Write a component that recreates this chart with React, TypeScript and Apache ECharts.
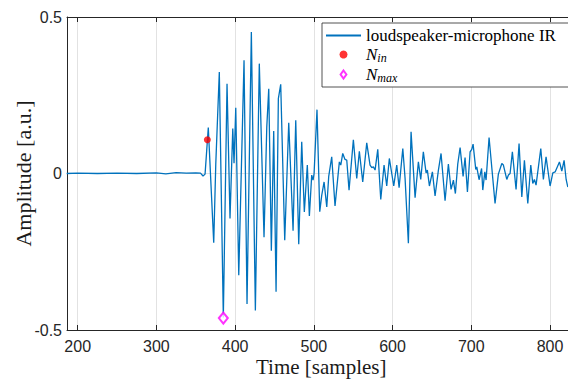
import React, { useEffect, useRef } from "react";
import * as echarts from "echarts";

// Impulse response (sample index, amplitude)
const sampleIdx = [
  186, 200, 225, 250, 275, 300, 312, 325, 338, 350, 356, 359.2, 361.8,
  365.9, 372.8, 375.4, 379.9, 385, 389.7, 393.5, 397, 398.6, 400.8, 404.6,
  411.3, 415.1, 420.6, 425.7, 430.7, 436.7, 440.2, 442.7, 446, 449, 452,
  454.9, 457.9, 463, 468.1, 473.6, 477, 480.8, 484.6, 487.9, 491.7, 494.3,
  497.3, 499, 500.3, 504, 507.5, 510, 513, 516.4, 518.9, 522.7, 526.9,
  532.4, 534.2, 536.7, 539.6, 541.8, 544.7, 550.2, 554.5, 557.8, 562.1,
  567.2, 571.4, 573.6, 575.6, 577.8, 581.2, 585, 589.2, 592.6, 595.9,
  601.5, 605.3, 608.3, 613, 615.9, 620.1, 623.5, 628.6, 632.8, 635.8,
  639.1, 642.6, 644.2, 646.8, 650.6, 654, 658.2, 661.6, 666.7, 670.9,
  674.3, 677.3, 679.8, 682.8, 685.8, 689.6, 692.1, 695.1, 698.5, 700.6,
  702.3, 705.7, 707, 709.9, 713.1, 714.6, 717.2, 718.8, 722.6, 730.2,
  734.4, 738.8, 740.8, 745.1, 747.2, 749.3, 752.2, 756.9, 760.7, 764.2,
  767.5, 771.8, 775.6, 778.1, 780.2, 782.3, 788.3, 791.6, 795, 800.1,
  803.6, 806.5, 812, 815, 817.9, 820.5, 822.6, 826,
];
const amplitude = [
  0, 0.001, 0, 0.001, 0, 0.002, -0.001, 0.003, 0.001, 0.002, 0.001, -0.008, -0.002,
  0.147, -0.221, 0.03, 0.324, -0.46, 0.287, -0.144, 0.144, 0.033, 0.21, -0.325,
  0.362, -0.417, 0.452, -0.438, 0.351, -0.204, 0.149, 0.271, -0.247, 0.136, -0.378,
  0.239, 0.285, -0.213, 0.162, -0.183, 0.17, -0.226, 0.101, -0.123, 0.027, -0.136,
  -0.005, -0.021, 0, 0.204, -0.122, -0.07, -0.027, -0.107, -0.009, 0.053, -0.104,
  0.037, 0.027, 0.064, 0.045, 0.043, -0.053, 0.108, -0.016, 0.071, -0.027,
  0.098, 0.027, 0.019, 0.021, 0.011, 0.077, -0.083, 0.027, -0.04, 0.048,
  -0.04, 0.027, -0.045, 0.08, -0.016, -0.223, 0.133, -0.077, 0.037, -0.019,
  0.069, 0.002, 0.011, -0.04, 0.005, -0.072, 0.01, 0.064, -0.087, 0.03,
  -0.051, -0.021, -0.064, 0.03, 0.083, -0.009, 0.051, -0.059, 0.069, 0.077,
  0.094, 0.013, 0.021, -0.02, 0.016, -0.053, 0.005, -0.021, 0.115, -0.096,
  -0.002, 0.032, 0.027, -0.019, -0.005, 0, 0.069, -0.051, 0.096, -0.075,
  0.042, -0.096, 0.027, -0.032, -0.019, -0.037, 0.08, -0.019, 0.053, -0.04,
  0.002, 0.005, 0.037, 0.008, 0.042, -0.019, -0.043, -0.03,
];

const nInSample = [364.7];
const nInAmp = [0.108];
const nMaxSample = [385];
const nMaxAmp = [-0.462];

const xMin = 186.4;
const xMax = 832.4;
const xTicks = [200, 300, 400, 500, 600, 700, 800];
const yTicks = [-0.5, 0, 0.5];

const seriesNames = ["loudspeaker-microphone IR", "N_in", "N_max"];

const AXIS = "#262626";
const GRIDC = "#e2e2e2";
const SANS = "'Liberation Sans', Arial, Helvetica, sans-serif";
const SERIF = "'Liberation Serif', 'Times New Roman', serif";

// legend icons (drawn by the legend component)
const DIAMOND_ICON = "path://M4,0L8,5.5L4,11L0,5.5Z";

export default function App() {
  const ref = useRef<HTMLDivElement>(null);
  useEffect(() => {
    if (!ref.current) return;
    const chart = echarts.init(ref.current, undefined, { renderer: "svg" });
    const lineData = sampleIdx.map((s, i) => [s, amplitude[i]]);
    const nInData = nInSample.map((s, i) => [s, nInAmp[i]]);
    const nMaxData = nMaxSample.map((s, i) => [s, nMaxAmp[i]]);
    chart.setOption({
      animation: false,
      backgroundColor: "#ffffff",
      grid: {
        left: 67,
        top: 17,
        width: 508.5,
        height: 313,
        containLabel: false,
        outerBoundsMode: "none",
      },
      xAxis: [
        {
          type: "value",
          min: xMin,
          max: xMax,
          name: "Time [samples]",
          nameLocation: "middle",
          nameGap: 26,
          nameMoveOverlap: false,
          nameTextStyle: { fontFamily: SERIF, fontSize: 21, color: "#1a1a1a" },
          axisLine: { show: true, onZero: false, lineStyle: { color: AXIS, width: 1 } },
          axisTick: {
            show: true,
            inside: true,
            length: 5,
            customValues: xTicks,
            lineStyle: { color: AXIS },
          },
          axisLabel: {
            fontFamily: SANS,
            fontSize: 16,
            color: AXIS,
            margin: 8,
            customValues: xTicks,
          },
          splitLine: { show: true, lineStyle: { color: GRIDC, width: 1 } },
        },
        {
          type: "value",
          position: "top",
          min: xMin,
          max: xMax,
          axisLine: { show: true, onZero: false, lineStyle: { color: AXIS, width: 1 } },
          axisTick: {
            show: true,
            inside: true,
            length: 5,
            customValues: xTicks,
            lineStyle: { color: AXIS },
          },
          axisLabel: { show: false },
          splitLine: { show: false },
        },
      ],
      yAxis: [
        {
          type: "value",
          min: yTicks[0],
          max: yTicks[yTicks.length - 1],
          interval: 0.5,
          name: "Amplitude [a.u.]",
          nameLocation: "middle",
          nameGap: 33,
          nameMoveOverlap: false,
          nameTextStyle: { fontFamily: SERIF, fontSize: 22, color: "#1a1a1a" },
          axisLine: { show: true, onZero: false, lineStyle: { color: AXIS, width: 1 } },
          axisTick: { show: true, inside: true, length: 5, lineStyle: { color: AXIS } },
          axisLabel: { fontFamily: SANS, fontSize: 16, color: AXIS, margin: 5 },
          splitLine: { show: true, lineStyle: { color: GRIDC, width: 1 } },
        },
      ],
      legend: {
        show: true,
        orient: "vertical",
        left: 322,
        top: 23,
        padding: [4, 14, 3, 3],
        itemGap: 2,
        itemWidth: 35,
        itemHeight: 8,
        symbolKeepAspect: true,
        backgroundColor: "#ffffff",
        borderColor: AXIS,
        borderWidth: 0.8,
        borderRadius: 0,
        data: [
          { name: seriesNames[0], itemStyle: { opacity: 0 } },
          { name: seriesNames[1], icon: "circle" },
          { name: seriesNames[2], icon: DIAMOND_ICON },
        ],
        formatter: (name: string) => {
          if (name === "N_in") return "{i|N}{s|in}";
          if (name === "N_max") return "{i|N}{s|max}";
          return "{r|" + name + "}";
        },
        textStyle: {
          color: "#000",
          rich: {
            r: { fontFamily: SERIF, fontSize: 17, lineHeight: 19, color: "#000" },
            i: { fontFamily: SERIF, fontSize: 17, fontStyle: "italic", lineHeight: 19, color: "#000" },
            s: {
              fontFamily: SERIF,
              fontSize: 12,
              fontStyle: "italic",
              lineHeight: 7,
              verticalAlign: "bottom",
              color: "#000",
            },
          },
        },
      },
      series: [
        {
          name: seriesNames[0],
          type: "line",
          data: lineData,
          symbol: "none",
          showSymbol: false,
          clip: true,
          lineStyle: { color: "#0072BD", width: 1.3 },
          itemStyle: { color: "#0072BD" },
          z: 2,
        },
        {
          name: seriesNames[1],
          type: "scatter",
          data: nInData,
          symbol: "circle",
          symbolSize: 7,
          itemStyle: { color: "#FF0000" },
          z: 3,
        },
        {
          name: seriesNames[2],
          type: "scatter",
          data: nMaxData,
          symbol: "diamond",
          symbolSize: [9, 11],
          symbolKeepAspect: true,
          itemStyle: { color: "#ffffff", borderColor: "#FF00FF", borderWidth: 2 },
          z: 3,
        },
      ],
    });
    return () => chart.dispose();
  }, []);
  return <div ref={ref} style={{ width: 568, height: 380, position: "absolute", left: 0, top: 0 }} />;
}
